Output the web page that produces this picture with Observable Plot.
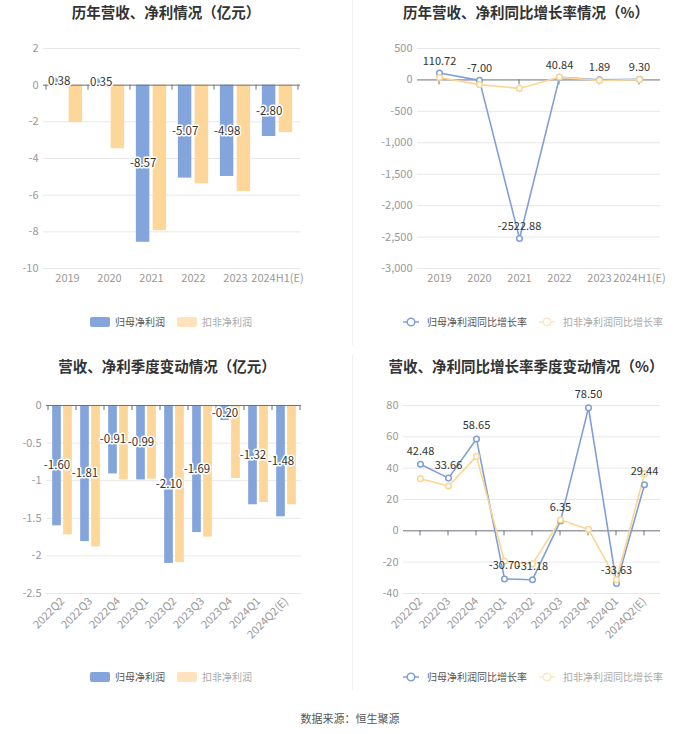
<!DOCTYPE html>
<html><head><meta charset="utf-8">
<script src="https://cdn.jsdelivr.net/npm/d3@7"></script>
<script src="https://cdn.jsdelivr.net/npm/@observablehq/plot@0.6"></script>
<style>
body{margin:0;background:#fff;}
#root{position:relative;width:700px;height:734px;font-family:"Noto Sans CJK SC","Noto Sans",sans-serif;overflow:hidden;}
.title{position:absolute;transform:translateX(-50%);font-size:14.5px;font-weight:bold;color:#333;white-space:nowrap;line-height:1;}
.panel{position:absolute;}
.legend{position:absolute;transform:translateX(-50%);display:flex;align-items:center;font-size:10px;white-space:nowrap;line-height:1;}
.legend .item{display:flex;align-items:center;margin:0 6px;}
.sw{display:inline-block;width:20px;height:10px;border-radius:2px;margin-right:5px;}
.divider{position:absolute;left:352px;width:1px;background:#f0f0f0;}
.source{position:absolute;left:350px;top:710px;transform:translateX(-50%);font-size:11px;color:#555;white-space:nowrap;}
</style></head>
<body><div id="root"></div>
<script>
// ---- data ----
const years = ["2019","2020","2021","2022","2023","2024H1(E)"];
const annualParent = [0.38, 0.35, -8.57, -5.07, -4.98, -2.80];
const annualDeducted = [-2.04, -3.47, -7.94, -5.38, -5.80, -2.59];
const annualParentGrowth = [110.72, -7.00, -2522.88, 40.84, 1.89, 9.30];
const annualDeductedGrowth = [38, -75, -135, 45, -10, 5];
const quarters = ["2022Q2","2022Q3","2022Q4","2023Q1","2023Q2","2023Q3","2023Q4","2024Q1","2024Q2(E)"];
const quarterParent = [-1.60, -1.81, -0.91, -0.99, -2.10, -1.69, -0.20, -1.32, -1.48];
const quarterDeducted = [-1.72, -1.88, -0.99, -0.98, -2.09, -1.75, -0.97, -1.29, -1.32];
const quarterParentGrowth = [42.48, 33.66, 58.65, -30.70, -31.18, 6.35, 78.50, -33.63, 29.44];
const quarterDeductedGrowth = [33.3, 28.6, 47.5, -19.4, -21.1, 7.0, 0.9, -31.3, 36.5];
const ticksAnnualProfit = [2, 0, -2, -4, -6, -8, -10];
const ticksAnnualGrowth = [500, 0, -500, -1000, -1500, -2000, -2500, -3000];
const ticksQuarterProfit = [0, -0.5, -1, -1.5, -2, -2.5];
const ticksQuarterGrowth = [80, 60, 40, 20, 0, -20, -40];
const titles = ["历年营收、净利情况（亿元）","历年营收、净利同比增长率情况（%）","营收、净利季度变动情况（亿元）","营收、净利同比增长率季度变动情况（%）"];
const barLegend = ["归母净利润","扣非净利润"];
const lineLegend = ["归母净利润同比增长率","扣非净利润同比增长率"];
const source = "数据来源：恒生聚源";

const BLUE = "#84a5dc", ORANGE = "#fdd699", LBLUE = "#7f9fd8", LORANGE = "#fdd593";
const FONT = '"Noto Sans CJK SC","Noto Sans",sans-serif';
const root = document.getElementById("root");

function tickMark(cats, mode) {
  return (index, scales) => {
    const x = scales.x, y = scales.y;
    const y0 = y(0);
    let xs = cats.map(c => x(c));
    if (mode === "band") {
      const step = xs[1] - xs[0];
      xs = xs.concat([xs[xs.length - 1] + step]);
    }
    const g = d3.create("svg:g").attr("stroke", "#6e7079").attr("stroke-width", 1);
    for (const px of xs) g.append("line").attr("x1", px).attr("x2", px).attr("y1", y0).attr("y2", y0 + 5);
    return g.node();
  };
}

function axisMarks(yTicks, rotate) {
  return [
    Plot.axisY(yTicks, {tickSize: 0, tickPadding: 5, tickFormat: d => d.toLocaleString("en-US"), fill: "#999", fontSize: 11, label: null}),
    Plot.axisX(rotate
      ? {tickSize: 0, tickPadding: 6, tickRotate: -45, fill: "#999", fontSize: 11, label: null}
      : {tickSize: 0, tickPadding: 6, fill: "#999", fontSize: 11, label: null})
  ];
}

function barPanel({cats, a, b, yTicks, m, barW, off, rotate}) {
  const rows = cats.map((c, i) => ({cat: c, a: a[i], b: b[i]}));
  const width = 350, height = 270;
  const step = (width - m.left - m.right) / cats.length;
  const inset = (step - barW) / 2;
  const yDom = [d3.min(yTicks), d3.max(yTicks)];
  return Plot.plot({
    width, height, marginTop: m.top, marginBottom: m.bottom, marginLeft: m.left, marginRight: m.right,
    style: {fontFamily: FONT, background: "transparent"},
    x: {type: "band", domain: cats, padding: 0, label: null},
    y: {domain: yDom, label: null},
    marks: [
      Plot.ruleY(yTicks.filter(t => t !== 0), {stroke: "#e8e8e8"}),
      Plot.barY(rows, {x: "cat", y: "a", fill: BLUE, insetLeft: inset, insetRight: inset, dx: -off}),
      Plot.barY(rows, {x: "cat", y: "b", fill: ORANGE, insetLeft: inset, insetRight: inset, dx: off}),
      Plot.ruleY([0], {stroke: "#6e7079"}),
      tickMark(cats, "band"),
      Plot.text(rows, {x: "cat", y: d => d.a / 2, text: d => d.a.toFixed(2), dx: -off, fill: "#333", stroke: "white", strokeWidth: 3, fontSize: 11.5}),
      ...axisMarks(yTicks, rotate)
    ]
  });
}

function linePanel({cats, a, b, yTicks, m, rotate, dy}) {
  const rows = cats.map((c, i) => ({cat: c, a: a[i], b: b[i]}));
  const width = 350, height = 270;
  const yDom = [d3.min(yTicks), d3.max(yTicks)];
  return Plot.plot({
    width, height, marginTop: m.top, marginBottom: m.bottom, marginLeft: m.left, marginRight: m.right,
    style: {fontFamily: FONT, background: "transparent"},
    x: {type: "point", domain: cats, padding: 0.5, label: null},
    y: {domain: yDom, label: null},
    marks: [
      Plot.ruleY(yTicks.filter(t => t !== 0), {stroke: "#e8e8e8"}),
      Plot.ruleY([0], {stroke: "#6e7079"}),
      tickMark(cats, "point"),
      Plot.line(rows, {x: "cat", y: "a", stroke: LBLUE, strokeWidth: 1.6}),
      Plot.line(rows, {x: "cat", y: "b", stroke: LORANGE, strokeWidth: 1.6}),
      Plot.dot(rows, {x: "cat", y: "a", r: 2.8, fill: "white", stroke: LBLUE, strokeWidth: 1.5}),
      Plot.dot(rows, {x: "cat", y: "b", r: 2.8, fill: "white", stroke: LORANGE, strokeWidth: 1.5}),
      Plot.text(rows, {x: "cat", y: "a", text: d => d.a.toFixed(2), dy: dy, fill: "#333", fontSize: 11}),
      ...axisMarks(yTicks, rotate)
    ]
  });
}

function place(el, left, top) {
  const d = document.createElement("div");
  d.className = "panel"; d.style.left = left + "px"; d.style.top = top + "px";
  d.appendChild(el); root.appendChild(d);
}
function addTitle(text, cx, top) {
  const d = document.createElement("div");
  d.className = "title"; d.textContent = text; d.style.left = cx + "px"; d.style.top = top + "px";
  root.appendChild(d);
}
function addBarLegend(cx, top) {
  const d = document.createElement("div");
  d.className = "legend"; d.style.left = cx + "px"; d.style.top = top + "px";
  d.innerHTML = `<span class="item" style="color:#555"><span class="sw" style="background:${BLUE}"></span>${barLegend[0]}</span>` +
    `<span class="item" style="color:#aaa"><span class="sw" style="background:#fee3bd"></span>${barLegend[1]}</span>`;
  root.appendChild(d);
}
function lineSym(color) {
  return `<svg width="16" height="10" style="margin-right:8px"><line x1="0" x2="16" y1="5" y2="5" stroke="${color}" stroke-width="1.5"/><circle cx="8" cy="5" r="3.8" fill="white" stroke="${color}" stroke-width="1.5"/></svg>`;
}
function addLineLegend(cx, top) {
  const d = document.createElement("div");
  d.className = "legend"; d.style.left = cx + "px"; d.style.top = top + "px";
  d.innerHTML = `<span class="item" style="color:#555">${lineSym(LBLUE)}${lineLegend[0]}</span>` +
    `<span class="item" style="color:#aaa">${lineSym("#fee6c4")}${lineLegend[1]}</span>`;
  root.appendChild(d);
}

// dividers
const dv1 = document.createElement("div"); dv1.className = "divider"; dv1.style.top = "0px"; dv1.style.height = "345px"; root.appendChild(dv1);
const dv2 = document.createElement("div"); dv2.className = "divider"; dv2.style.top = "355px"; dv2.style.height = "335px"; root.appendChild(dv2);

addTitle(titles[0], 166, 5);
addTitle(titles[1], 526, 5);
addTitle(titles[2], 167, 359);
addTitle(titles[3], 526, 359);

place(barPanel({cats: years, a: annualParent, b: annualDeducted, yTicks: ticksAnnualProfit,
  m: {top: 18, bottom: 32, left: 43, right: 50}, barW: 14.3, off: 8.4, rotate: false}), 0, 30);
place(linePanel({cats: years, a: annualParentGrowth, b: annualDeductedGrowth, yTicks: ticksAnnualGrowth,
  m: {top: 18, bottom: 32, left: 67, right: 40}, rotate: false, dy: -12}), 350, 30);
place(barPanel({cats: quarters, a: quarterParent, b: quarterDeducted, yTicks: ticksQuarterProfit,
  m: {top: 25, bottom: 57, left: 46, right: 49}, barW: 9, off: 5.5, rotate: true}), 0, 380);
place(linePanel({cats: quarters, a: quarterParentGrowth, b: quarterDeductedGrowth, yTicks: ticksQuarterGrowth,
  m: {top: 25, bottom: 57, left: 53, right: 40}, rotate: true, dy: -13}), 350, 380);

addBarLegend(171, 317);
addLineLegend(533, 317);
addBarLegend(171, 672);
addLineLegend(533, 672);

const src = document.createElement("div"); src.className = "source"; src.textContent = source; root.appendChild(src);
</script></body></html>
